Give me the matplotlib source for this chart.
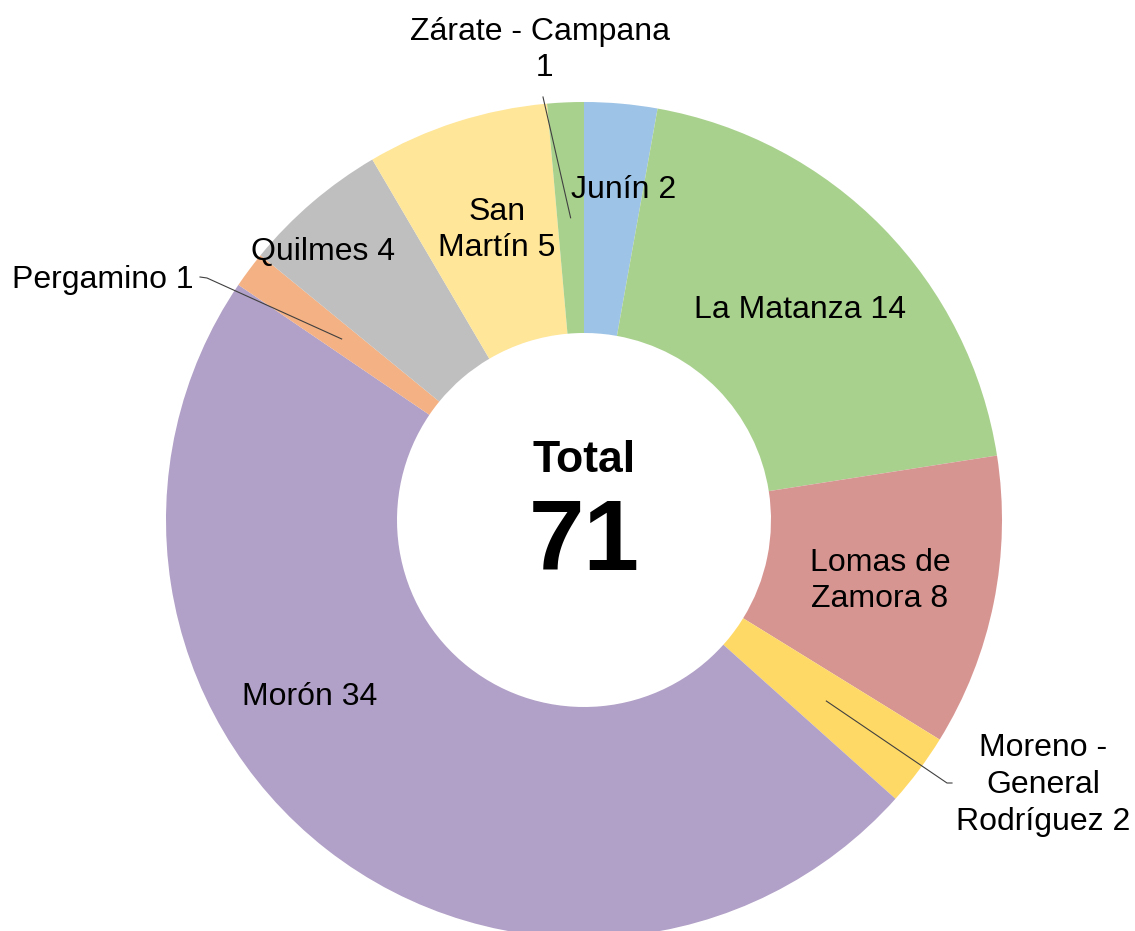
import numpy as np
import matplotlib.pyplot as plt

plt.rcParams['font.family'] = ['Liberation Sans', 'DejaVu Sans']

names = ["Junín", "La Matanza", "Lomas de\nZamora", "Moreno -\nGeneral\nRodríguez",
         "Morón", "Pergamino", "Quilmes", "San\nMartín", "Zárate - Campana\n"]
values = [2, 14, 8, 2, 34, 1, 4, 5, 1]
colors = ["#9DC3E6", "#A9D18E", "#D79592", "#FFD966", "#B1A0C7",
          "#F4B183", "#BFBFBF", "#FFE699", "#A9D18E"]

W, H = 1135, 931
cx, cy = 584, H - 520
R, r = 418, 187

fig = plt.figure(figsize=(W / 100, H / 100), dpi=100)
ax = fig.add_axes([0, 0, 1, 1])
wedges, _ = ax.pie(values, radius=R, center=(cx, cy), startangle=90, counterclock=False,
                   colors=colors, wedgeprops=dict(width=R - r, linewidth=0))
ax.set_xlim(0, W)
ax.set_ylim(0, H)
ax.set_aspect('equal')
ax.axis('off')

# label centres in pixel coords (from top-left)
label_pos = [(624, 190), (800, 310), (880, 581), (1043, 785), (310, 697),
             (103, 280), (323, 252), (497, 230), (540, 50)]
for name, v, (x, y) in zip(names, values, label_pos):
    ax.text(x, H - y, f"{name} {v}", ha='center', va='center', fontsize=23,
            linespacing=1.29, multialignment='center')


def mid_point(w):
    a = np.deg2rad((w.theta1 + w.theta2) / 2)
    rm = (R + r) / 2
    return cx + rm * np.cos(a), cy + rm * np.sin(a)


# leader lines
lc = "#404040"
px, py = mid_point(wedges[8])
ax.plot([543, px], [H - 97, py], color=lc, lw=0.8)
px, py = mid_point(wedges[5])
ax.plot([200, 207, px], [H - 277, H - 278, py], color=lc, lw=0.8)
px, py = mid_point(wedges[3])
ax.plot([px, 947, 952], [py, H - 783, H - 783], color=lc, lw=0.8)

ax.text(cx, H - 472, "Total", ha='center', va='baseline', fontsize=32, fontweight='bold')
ax.text(cx, H - 570, str(sum(values)), ha='center', va='baseline', fontsize=72, fontweight='bold')

plt.savefig("out.png", dpi=100)
